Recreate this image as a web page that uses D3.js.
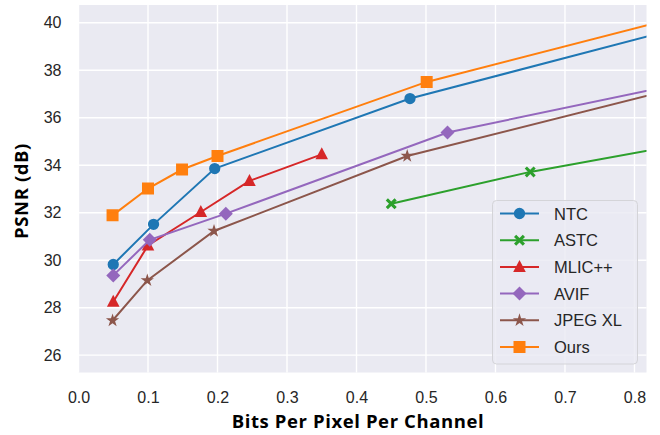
<!DOCTYPE html>
<html lang="en">
  <head>
    <meta charset="utf-8">
    <title>PSNR vs bits per pixel</title>
    <script src="https://cdn.jsdelivr.net/npm/d3@7"></script>
    <style>
      body { margin: 0; background: #fff; }
      .tick text { font-family: "Liberation Sans", Arial, sans-serif; font-size: 16px; fill: #262626; }
      .axis-title { font-family: "Open Sans", sans-serif; font-weight: bold; font-size: 18.5px; letter-spacing: 0.6px; fill: #000; }
      .legend text { font-family: "Liberation Sans", Arial, sans-serif; font-size: 16.5px; fill: #262626; }
    </style>
  </head>
  <body>
    <script>
      // values; last point of some series lies past the right edge
      var methods = ["NTC", "ASTC", "MLIC++", "AVIF", "JPEG XL", "Ours"];
      var ntc   = [[0.05, 29.82], [0.108, 31.51], [0.196, 33.86], [0.477, 36.81], [1.0, 40.82]];
      var astc  = [[0.45, 32.38], [0.65, 33.72], [1.0, 35.57]];
      var mlic  = [[0.05, 28.25], [0.10, 30.62], [0.176, 32.03], [0.246, 33.34], [0.35, 34.46]];
      var avif  = [[0.05, 29.36], [0.1025, 30.86], [0.212, 31.96], [0.531, 35.38], [1.0, 38.25]];
      var jpegxl = [[0.049, 27.46], [0.099, 29.15], [0.195, 31.23], [0.473, 34.39], [1.0, 38.26]];
      var ours  = [[0.049, 31.89], [0.10, 33.02], [0.149, 33.82], [0.20, 34.39], [0.501, 37.51], [1.0, 41.27]];
      var xTicks = [0, 0.1, 0.2, 0.3, 0.4, 0.5, 0.6, 0.7, 0.8];
      var yTicks = [26, 28, 30, 32, 34, 36, 38, 40];

      var series = [ntc, astc, mlic, avif, jpegxl, ours];
      var colors = ["#1f77b4", "#2ca02c", "#d62728", "#9467bd", "#8c564b", "#ff7f0e"];
      var shapes = ["circle", "x", "triangle", "diamond", "star", "square"];

      var w = 660, h = 435;
      var plotL = 78.5, plotR = 646.5, plotT = 5, plotB = 372.5;

      var x = d3.scaleLinear().domain([0, 0.8173]).range([plotL, plotR]);
      var y = d3.scaleLinear().domain([25.27, 40.75]).range([plotB, plotT]);

      var svg = d3.select("body").append("svg")
                  .attr("width", w)
                  .attr("height", h);

      svg.append("clipPath").attr("id", "plot-area")
         .append("rect")
         .attr("x", plotL).attr("y", plotT)
         .attr("width", plotR - plotL).attr("height", plotB - plotT);

      svg.append("rect")
         .attr("x", plotL).attr("y", plotT)
         .attr("width", plotR - plotL).attr("height", plotB - plotT)
         .attr("fill", "#eaeaf2");

      // grid
      var grid = svg.append("g").attr("stroke", "#fff").attr("stroke-width", 1.4);
      grid.selectAll(".gx").data(xTicks).enter().append("line")
          .attr("x1", function(d) { return x(d); }).attr("x2", function(d) { return x(d); })
          .attr("y1", plotT).attr("y2", plotB);
      grid.selectAll(".gy").data(yTicks).enter().append("line")
          .attr("y1", function(d) { return y(d); }).attr("y2", function(d) { return y(d); })
          .attr("x1", plotL).attr("x2", plotR);

      // axes (no lines, only labels)
      var xAxis = d3.axisBottom(x).tickValues(xTicks).tickSize(0).tickPadding(19)
                    .tickFormat(d3.format(".1f"));
      var yAxis = d3.axisLeft(y).tickValues(yTicks).tickSize(0).tickPadding(17);

      svg.append("g").attr("class", "x axis")
         .attr("transform", "translate(0," + plotB + ")")
         .call(xAxis)
         .call(function(g) { g.select(".domain").remove(); });
      svg.append("g").attr("class", "y axis")
         .attr("transform", "translate(" + plotL + ",0)")
         .call(yAxis)
         .call(function(g) { g.select(".domain").remove(); });

      svg.append("text").attr("class", "axis-title")
         .attr("x", 358).attr("y", 428)
         .attr("text-anchor", "middle")
         .text("Bits Per Pixel Per Channel");
      svg.append("text").attr("class", "axis-title")
         .attr("transform", "translate(28,191) rotate(-90)")
         .attr("text-anchor", "middle")
         .text("PSNR (dB)");

      // marker paths centred on 0,0
      function markerPath(s) {
        if (s == "circle") return d3.symbol(d3.symbolCircle, 100)();
        if (s == "square") return "M-6,-6H6V6H-6Z";
        if (s == "triangle") return "M0,-7L6.3,5L-6.3,5Z";
        if (s == "diamond") return "M0,-7L7,0L0,7L-7,0Z";
        if (s == "star") return d3.symbol(d3.symbolStar, 55)();
        // filled X
        var a = 2.2, b = 5.5;
        return "M" + (-b) + "," + (-b + a) + "L" + (-a) + ",0L" + (-b) + "," + (b - a) +
               "L" + (-b + a) + "," + b + "L0," + a + "L" + (b - a) + "," + b +
               "L" + b + "," + (b - a) + "L" + a + ",0L" + b + "," + (-b + a) +
               "L" + (b - a) + "," + (-b) + "L0," + (-a) + "L" + (-b + a) + "," + (-b) + "Z";
      }

      var line = d3.line()
                   .x(function(d) { return x(d[0]); })
                   .y(function(d) { return y(d[1]); });

      var plot = svg.append("g").attr("clip-path", "url(#plot-area)");

      series.forEach(function(data, i) {
        plot.append("path")
            .datum(data)
            .attr("d", line)
            .attr("fill", "none")
            .attr("stroke", colors[i])
            .attr("stroke-width", 2);
        plot.selectAll(".m" + i)
            .data(data.filter(function(d) { return d[0] <= x.domain()[1]; }))
            .enter().append("path")
            .attr("d", markerPath(shapes[i]))
            .attr("transform", function(d) { return "translate(" + x(d[0]) + "," + y(d[1]) + ")"; })
            .attr("fill", colors[i]);
      });

      // legend
      var legend = svg.append("g").attr("class", "legend");
      legend.append("rect")
            .attr("x", 492.5).attr("y", 200.5)
            .attr("width", 145).attr("height", 163.5)
            .attr("rx", 4)
            .attr("fill", "#eaeaf2").attr("fill-opacity", 0.8)
            .attr("stroke", "#d4d4d8").attr("stroke-width", 1);

      var rows = legend.selectAll(".row").data(methods).enter().append("g")
                       .attr("transform", function(d, i) { return "translate(0," + (213.5 + i * 26.7) + ")"; });
      rows.append("line")
          .attr("x1", 500).attr("x2", 539)
          .attr("stroke", function(d, i) { return colors[i]; })
          .attr("stroke-width", 2);
      rows.append("path")
          .attr("transform", "translate(519.5,0)")
          .attr("d", function(d, i) { return markerPath(shapes[i]); })
          .attr("fill", function(d, i) { return colors[i]; });
      rows.append("text")
          .attr("x", 554).attr("y", 6)
          .text(function(d) { return d; });
    </script>
  </body>
</html>
